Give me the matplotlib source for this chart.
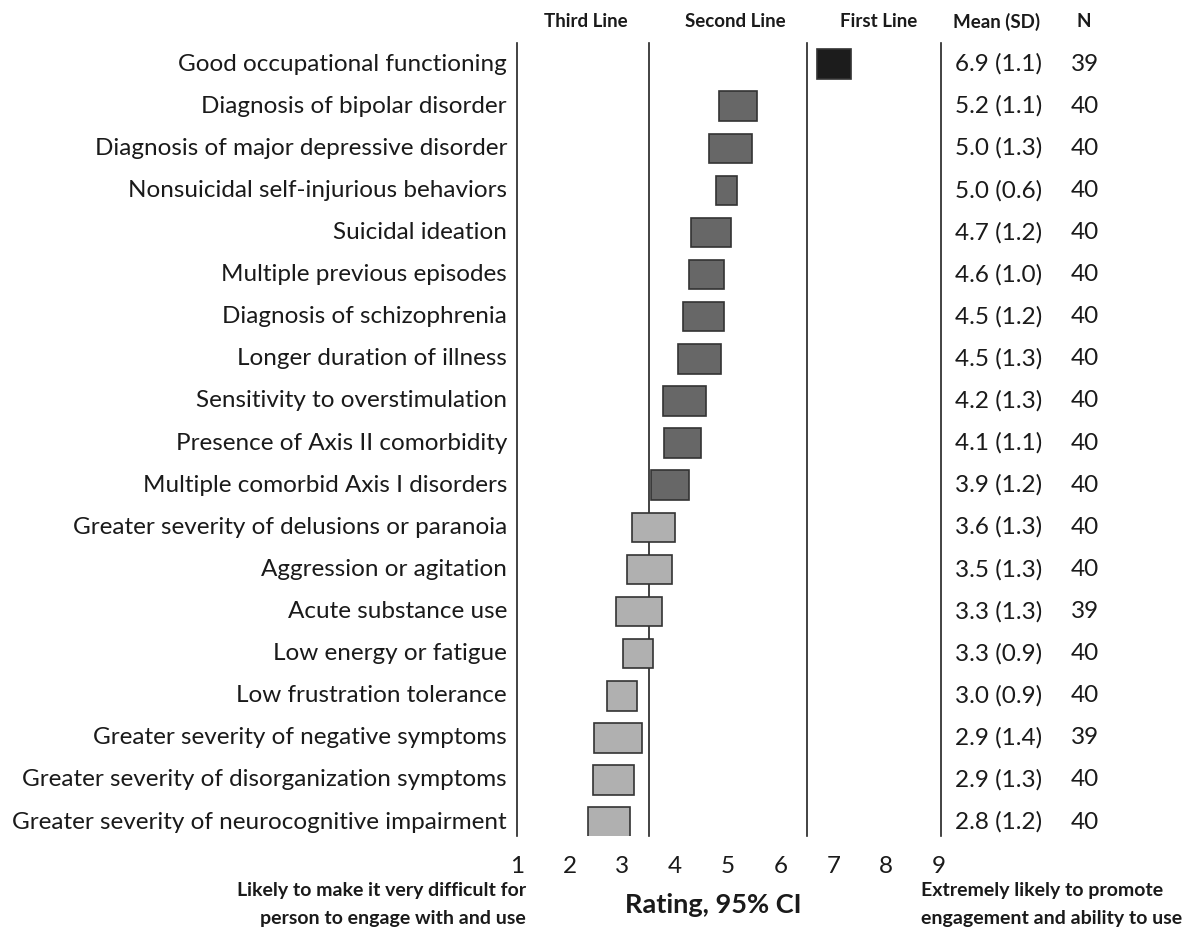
import matplotlib
matplotlib.use("Agg")
import matplotlib.pyplot as plt
from matplotlib.patches import Rectangle

plt.rcParams['font.family'] = ['Lato', 'DejaVu Sans']

# rows, top to bottom
factors = [
    "Good occupational functioning",
    "Diagnosis of bipolar disorder",
    "Diagnosis of major depressive disorder",
    "Nonsuicidal self-injurious behaviors",
    "Suicidal ideation",
    "Multiple previous episodes",
    "Diagnosis of schizophrenia",
    "Longer duration of illness",
    "Sensitivity to overstimulation",
    "Presence of Axis II comorbidity",
    "Multiple comorbid Axis I disorders",
    "Greater severity of delusions or paranoia",
    "Aggression or agitation",
    "Acute substance use",
    "Low energy or fatigue",
    "Low frustration tolerance",
    "Greater severity of negative symptoms",
    "Greater severity of disorganization symptoms",
    "Greater severity of neurocognitive impairment",
]
ci_low = [6.69, 4.83, 4.64, 4.77, 4.30, 4.26, 4.15, 4.05, 3.77, 3.79,
          3.54, 3.18, 3.09, 2.88, 3.01, 2.71, 2.46, 2.44, 2.35]
ci_high = [7.33, 5.55, 5.45, 5.17, 5.06, 4.92, 4.92, 4.87, 4.58, 4.49,
           4.26, 4.00, 3.94, 3.75, 3.58, 3.27, 3.37, 3.22, 3.14]
mean_sd = ["6.9 (1.1)", "5.2 (1.1)", "5.0 (1.3)", "5.0 (0.6)", "4.7 (1.2)",
           "4.6 (1.0)", "4.5 (1.2)", "4.5 (1.3)", "4.2 (1.3)", "4.1 (1.1)",
           "3.9 (1.2)", "3.6 (1.3)", "3.5 (1.3)", "3.3 (1.3)", "3.3 (0.9)",
           "3.0 (0.9)", "2.9 (1.4)", "2.9 (1.3)", "2.8 (1.2)"]
n_resp = [39, 40, 40, 40, 40, 40, 40, 40, 40, 40,
          40, 40, 40, 39, 40, 40, 39, 40, 40]
tier = ["first"] + ["second"] * 10 + ["third"] * 8

tier_colors = {"first": "#1c1c1c", "second": "#676767", "third": "#b0b0b0"}
cutoffs = [3.5, 6.5]
ticks = list(range(1, 10))

W, H = 1188, 932
fig = plt.figure(figsize=(W / 100, H / 100), dpi=100)
# axes placed in pixel terms: x 517..939, y 43..836
ax = fig.add_axes([517 / W, 1 - 836 / H, (939 - 517) / W, (836 - 43) / H])
ax.set_xlim(1, 9)
ax.set_ylim(18.33, -0.5)
ax.axis("off")

txt_col = "#1a1a1a"
for i in range(len(factors)):
    ax.add_patch(Rectangle((ci_low[i], i - 0.35), ci_high[i] - ci_low[i], 0.7,
                           facecolor=tier_colors[tier[i]], edgecolor="#333333",
                           linewidth=1.2, zorder=3))
    ax.text(0.81, i, factors[i], ha="right", va="center", fontsize=17.5, color=txt_col)
    ax.text(9.30, i, mean_sd[i], ha="left", va="center", fontsize=17.5, color=txt_col)
    ax.text(11.77, i, str(n_resp[i]), ha="center", va="center", fontsize=17.5, color=txt_col)

# separating lines: scale ends and tier cut-offs
for xv in [1] + cutoffs + [9.04]:
    ax.axvline(xv, color="#222222", linewidth=1.2, zorder=2, clip_on=False)

# tick labels
for t in ticks:
    ax.text(t, 19.05, str(t), ha="center", va="center", fontsize=17.5, color=txt_col)

# column headers
headers = [("Third Line", 2.31), ("Second Line", 5.13), ("First Line", 7.86),
           ("Mean (SD)", 10.10), ("N", 11.75)]
for txt, xh in headers:
    ax.text(xh, -1.0, txt, ha="center", va="center", fontsize=13.5,
            fontweight="bold", color=txt_col)

ax.text(4.73, 19.97, "Rating, 95% CI", ha="center", va="center", fontsize=19.5,
        fontweight="bold", color=txt_col)
ax.text(1.17, 19.62, "Likely to make it very difficult for", ha="right", va="center",
        fontsize=14, fontweight="bold", color=txt_col)
ax.text(1.17, 20.28, "person to engage with and use", ha="right", va="center",
        fontsize=14, fontweight="bold", color=txt_col)
ax.text(8.66, 19.62, "Extremely likely to promote", ha="left", va="center",
        fontsize=14, fontweight="bold", color=txt_col)
ax.text(8.66, 20.28, "engagement and ability to use", ha="left", va="center",
        fontsize=14, fontweight="bold", color=txt_col)

for t in ax.texts:
    t.set_clip_on(False)

fig.savefig("out.png", dpi=100)
